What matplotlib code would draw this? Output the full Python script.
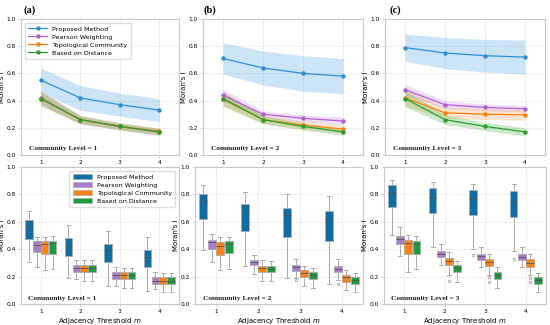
import matplotlib
matplotlib.use("Agg")
import matplotlib.pyplot as plt
from matplotlib.patches import Patch
import numpy as np

thresholds = [1, 2, 3, 4]
methods = ["Proposed Method", "Pearson Weighting", "Topological Community", "Based on Distance"]
panel_labels = ["(a)", "(b)", "(c)"]
level_texts = ["Community Level = 1", "Community Level = 2", "Community Level = 3"]

# ---- top row: mean and half band width (rows = methods, cols = thresholds)
mean_l1 = [[0.55, 0.42, 0.37, 0.33],
           [0.42, 0.26, 0.21, 0.17],
           [0.415, 0.26, 0.21, 0.175],
           [0.415, 0.26, 0.21, 0.17]]
band_l1 = [[0.09, 0.09, 0.085, 0.085],
           [0.05, 0.03, 0.025, 0.025],
           [0.055, 0.03, 0.025, 0.025],
           [0.05, 0.03, 0.025, 0.025]]
mean_l2 = [[0.71, 0.64, 0.60, 0.58],
           [0.44, 0.30, 0.27, 0.25],
           [0.41, 0.26, 0.22, 0.19],
           [0.415, 0.26, 0.21, 0.17]]
band_l2 = [[0.115, 0.125, 0.13, 0.13],
           [0.045, 0.025, 0.025, 0.03],
           [0.055, 0.03, 0.03, 0.03],
           [0.05, 0.03, 0.025, 0.025]]
mean_l3 = [[0.79, 0.75, 0.73, 0.72],
           [0.48, 0.37, 0.35, 0.34],
           [0.42, 0.31, 0.30, 0.295],
           [0.415, 0.26, 0.21, 0.17]]
band_l3 = [[0.10, 0.115, 0.12, 0.125],
           [0.04, 0.03, 0.025, 0.025],
           [0.06, 0.04, 0.04, 0.04],
           [0.06, 0.035, 0.03, 0.03]]

# ---- bottom row box statistics (rows = methods, cols = thresholds)
med_l1 = [[0.567, 0.426, 0.392, 0.34], [0.433, 0.26, 0.21, 0.17], [0.44, 0.26, 0.21, 0.17], [0.445, 0.26, 0.21, 0.17]]
q1_l1 = [[0.475, 0.353, 0.307, 0.268], [0.377, 0.234, 0.182, 0.146], [0.365, 0.234, 0.182, 0.146], [0.367, 0.234, 0.182, 0.146]]
q3_l1 = [[0.61, 0.48, 0.438, 0.397], [0.457, 0.285, 0.234, 0.197], [0.457, 0.285, 0.234, 0.197], [0.457, 0.285, 0.234, 0.197]]
wlo_l1 = [[0.31, 0.19, 0.13, 0.092], [0.27, 0.18, 0.135, 0.11], [0.25, 0.165, 0.117, 0.09], [0.258, 0.165, 0.117, 0.088]]
whi_l1 = [[0.68, 0.574, 0.53, 0.49], [0.49, 0.32, 0.268, 0.23], [0.49, 0.318, 0.265, 0.228], [0.494, 0.318, 0.265, 0.226]]

med_l2 = [[0.75, 0.676, 0.652, 0.623], [0.453, 0.307, 0.268, 0.255], [0.426, 0.263, 0.226, 0.195], [0.44, 0.258, 0.214, 0.178]]
q1_l2 = [[0.623, 0.53, 0.49, 0.462], [0.40, 0.282, 0.243, 0.231], [0.355, 0.234, 0.197, 0.16], [0.37, 0.234, 0.182, 0.146]]
q3_l2 = [[0.803, 0.73, 0.70, 0.676], [0.47, 0.319, 0.282, 0.275], [0.45, 0.28, 0.25, 0.214], [0.457, 0.28, 0.234, 0.197]]
wlo_l2 = [[0.397, 0.275, 0.19, 0.148], [0.307, 0.221, 0.19, 0.173], [0.246, 0.165, 0.134, 0.105], [0.255, 0.165, 0.117, 0.088]]
whi_l2 = [[0.866, 0.815, 0.803, 0.786], [0.513, 0.355, 0.331, 0.328], [0.487, 0.324, 0.28, 0.25], [0.49, 0.316, 0.263, 0.226]]

med_l3 = [[0.815, 0.774, 0.766, 0.754], [0.477, 0.367, 0.348, 0.343], [0.445, 0.311, 0.304, 0.30], [0.44, 0.263, 0.209, 0.173]]
q1_l3 = [[0.708, 0.664, 0.647, 0.635], [0.44, 0.34, 0.319, 0.319], [0.367, 0.282, 0.275, 0.27], [0.367, 0.231, 0.185, 0.146]]
q3_l3 = [[0.871, 0.847, 0.83, 0.822], [0.499, 0.384, 0.365, 0.365], [0.465, 0.336, 0.331, 0.328], [0.457, 0.282, 0.234, 0.197]]
wlo_l3 = [[0.506, 0.416, 0.40, 0.384], [0.348, 0.287, 0.27, 0.27], [0.234, 0.214, 0.214, 0.214], [0.255, 0.16, 0.117, 0.088]]
whi_l3 = [[0.903, 0.888, 0.878, 0.876], [0.562, 0.438, 0.416, 0.416], [0.501, 0.38, 0.367, 0.367], [0.494, 0.316, 0.27, 0.226]]

# outliers: (level index, method index, threshold, value)
outliers = [(1, 1, 3, 0.173), (1, 1, 4, 0.146),
            (2, 2, 2, 0.17), (2, 0, 3, 0.355), (2, 2, 3, 0.195), (2, 2, 3, 0.158),
            (2, 0, 4, 0.33), (2, 2, 4, 0.19), (2, 2, 4, 0.158)]

means = [mean_l1, mean_l2, mean_l3]
bands = [band_l1, band_l2, band_l3]
meds = [med_l1, med_l2, med_l3]
q1s = [q1_l1, q1_l2, q1_l3]
q3s = [q3_l1, q3_l2, q3_l3]
wlos = [wlo_l1, wlo_l2, wlo_l3]
whis = [whi_l1, whi_l2, whi_l3]

line_colors = ["#2f8fd3", "#b160d2", "#ff7f0e", "#2ca02c"]
band_colors = ["#4aa3df", "#c48ae0", "#ffa34d", "#44b044"]
box_colors = ["#0b6fa5", "#a87cc8", "#ff8214", "#1c9b3c"]

W, H = 550, 325
fig = plt.figure(figsize=(5.5, 3.25), dpi=100)

def px(l, t, r, b):
    return [l / W, 1 - b / H, (r - l) / W, (b - t) / H]

top_rects = [px(21, 19, 179, 155), px(203, 19, 363, 155), px(385, 19, 545, 155)]
bot_rects = [px(21, 167, 179, 304), px(195, 167, 363, 304), px(384, 167, 546, 304)]
label_x = [23, 203, 389]

spine_col = "#c8c8c8"
grid_col = "#ebebeb"

def style(ax):
    ax.set_ylim(0, 1)
    ax.set_xlim(0.5, 4.5)
    ax.set_xticks(thresholds)
    ax.set_yticks(np.arange(0, 1.01, 0.2))
    ax.yaxis.set_major_formatter(matplotlib.ticker.FormatStrFormatter("%.1f"))
    ax.tick_params(labelsize=4.2, length=2, width=0.5, color=spine_col, pad=1.5)
    for s in ax.spines.values():
        s.set_color(spine_col)
        s.set_linewidth(0.8)
    ax.grid(True, color=grid_col, linewidth=0.6)
    ax.set_axisbelow(True)
    ax.set_ylabel("Moran's I", fontsize=5, labelpad=1.5)

for p in range(3):
    ax = fig.add_axes(top_rects[p])
    style(ax)
    for m in range(4):
        mu = np.array(means[p][m])
        bw = np.array(bands[p][m])
        ax.fill_between(thresholds, mu - bw, mu + bw, color=band_colors[m], alpha=0.28, linewidth=0)
    for m in range(4):
        ax.plot(thresholds, means[p][m], color=line_colors[m], marker="o", markersize=2.2,
                linewidth=0.9, label=methods[m])
    ax.text(0.05, 0.035, level_texts[p], transform=ax.transAxes, fontsize=5.3,
            family="Liberation Serif", fontweight="bold", color="#222222")
    fig.text(label_x[p] / W, 1 - 13 / H, panel_labels[p], fontsize=7.5,
             family="Liberation Serif", fontweight="bold")
    if p == 0:
        ax.legend(loc="upper left", fontsize=4.6, frameon=True, framealpha=1, edgecolor="#dddddd",
                  handlelength=3, borderpad=0.5, labelspacing=0.4, handletextpad=0.8,
                  borderaxespad=0.6)

offsets = [-0.3, -0.1, 0.1, 0.3]
for p in range(3):
    ax = fig.add_axes(bot_rects[p])
    style(ax)
    for m in range(4):
        stats = []
        for j, t in enumerate(thresholds):
            fl = [o[3] for o in outliers if o[0] == p and o[1] == m and o[2] == t]
            stats.append(dict(med=meds[p][m][j], q1=q1s[p][m][j], q3=q3s[p][m][j],
                              whislo=wlos[p][m][j], whishi=whis[p][m][j], fliers=fl))
        pos = [t + offsets[m] for t in thresholds]
        ax.bxp(stats, positions=pos, widths=0.19, patch_artist=True, showfliers=True,
               manage_ticks=False,
               boxprops=dict(facecolor=box_colors[m], edgecolor="#aaaaaa", linewidth=0.6),
               whiskerprops=dict(color="#aaaaaa", linewidth=0.7),
               capprops=dict(color="#aaaaaa", linewidth=0.7),
               medianprops=dict(color="#555555", linewidth=0.6),
               flierprops=dict(marker="o", markersize=1.8, markerfacecolor="none",
                               markeredgecolor="#999999", markeredgewidth=0.5))
    ax.set_xlabel("Adjacency Threshold $m$", fontsize=5, labelpad=1.5)
    ax.text(0.045, 0.03, level_texts[p], transform=ax.transAxes, fontsize=5.3,
            family="Liberation Serif", fontweight="bold", color="#222222")
    if p == 0:
        handles = [Patch(facecolor=box_colors[m], edgecolor="#aaaaaa", linewidth=0.5, label=methods[m])
                   for m in range(4)]
        ax.legend(handles=handles, loc="upper right", fontsize=4.6, frameon=True, framealpha=1,
                  edgecolor="#dddddd", handlelength=3, borderpad=0.5, labelspacing=0.4,
                  handletextpad=0.8, borderaxespad=0.6)

fig.savefig("out.png", dpi=100)
